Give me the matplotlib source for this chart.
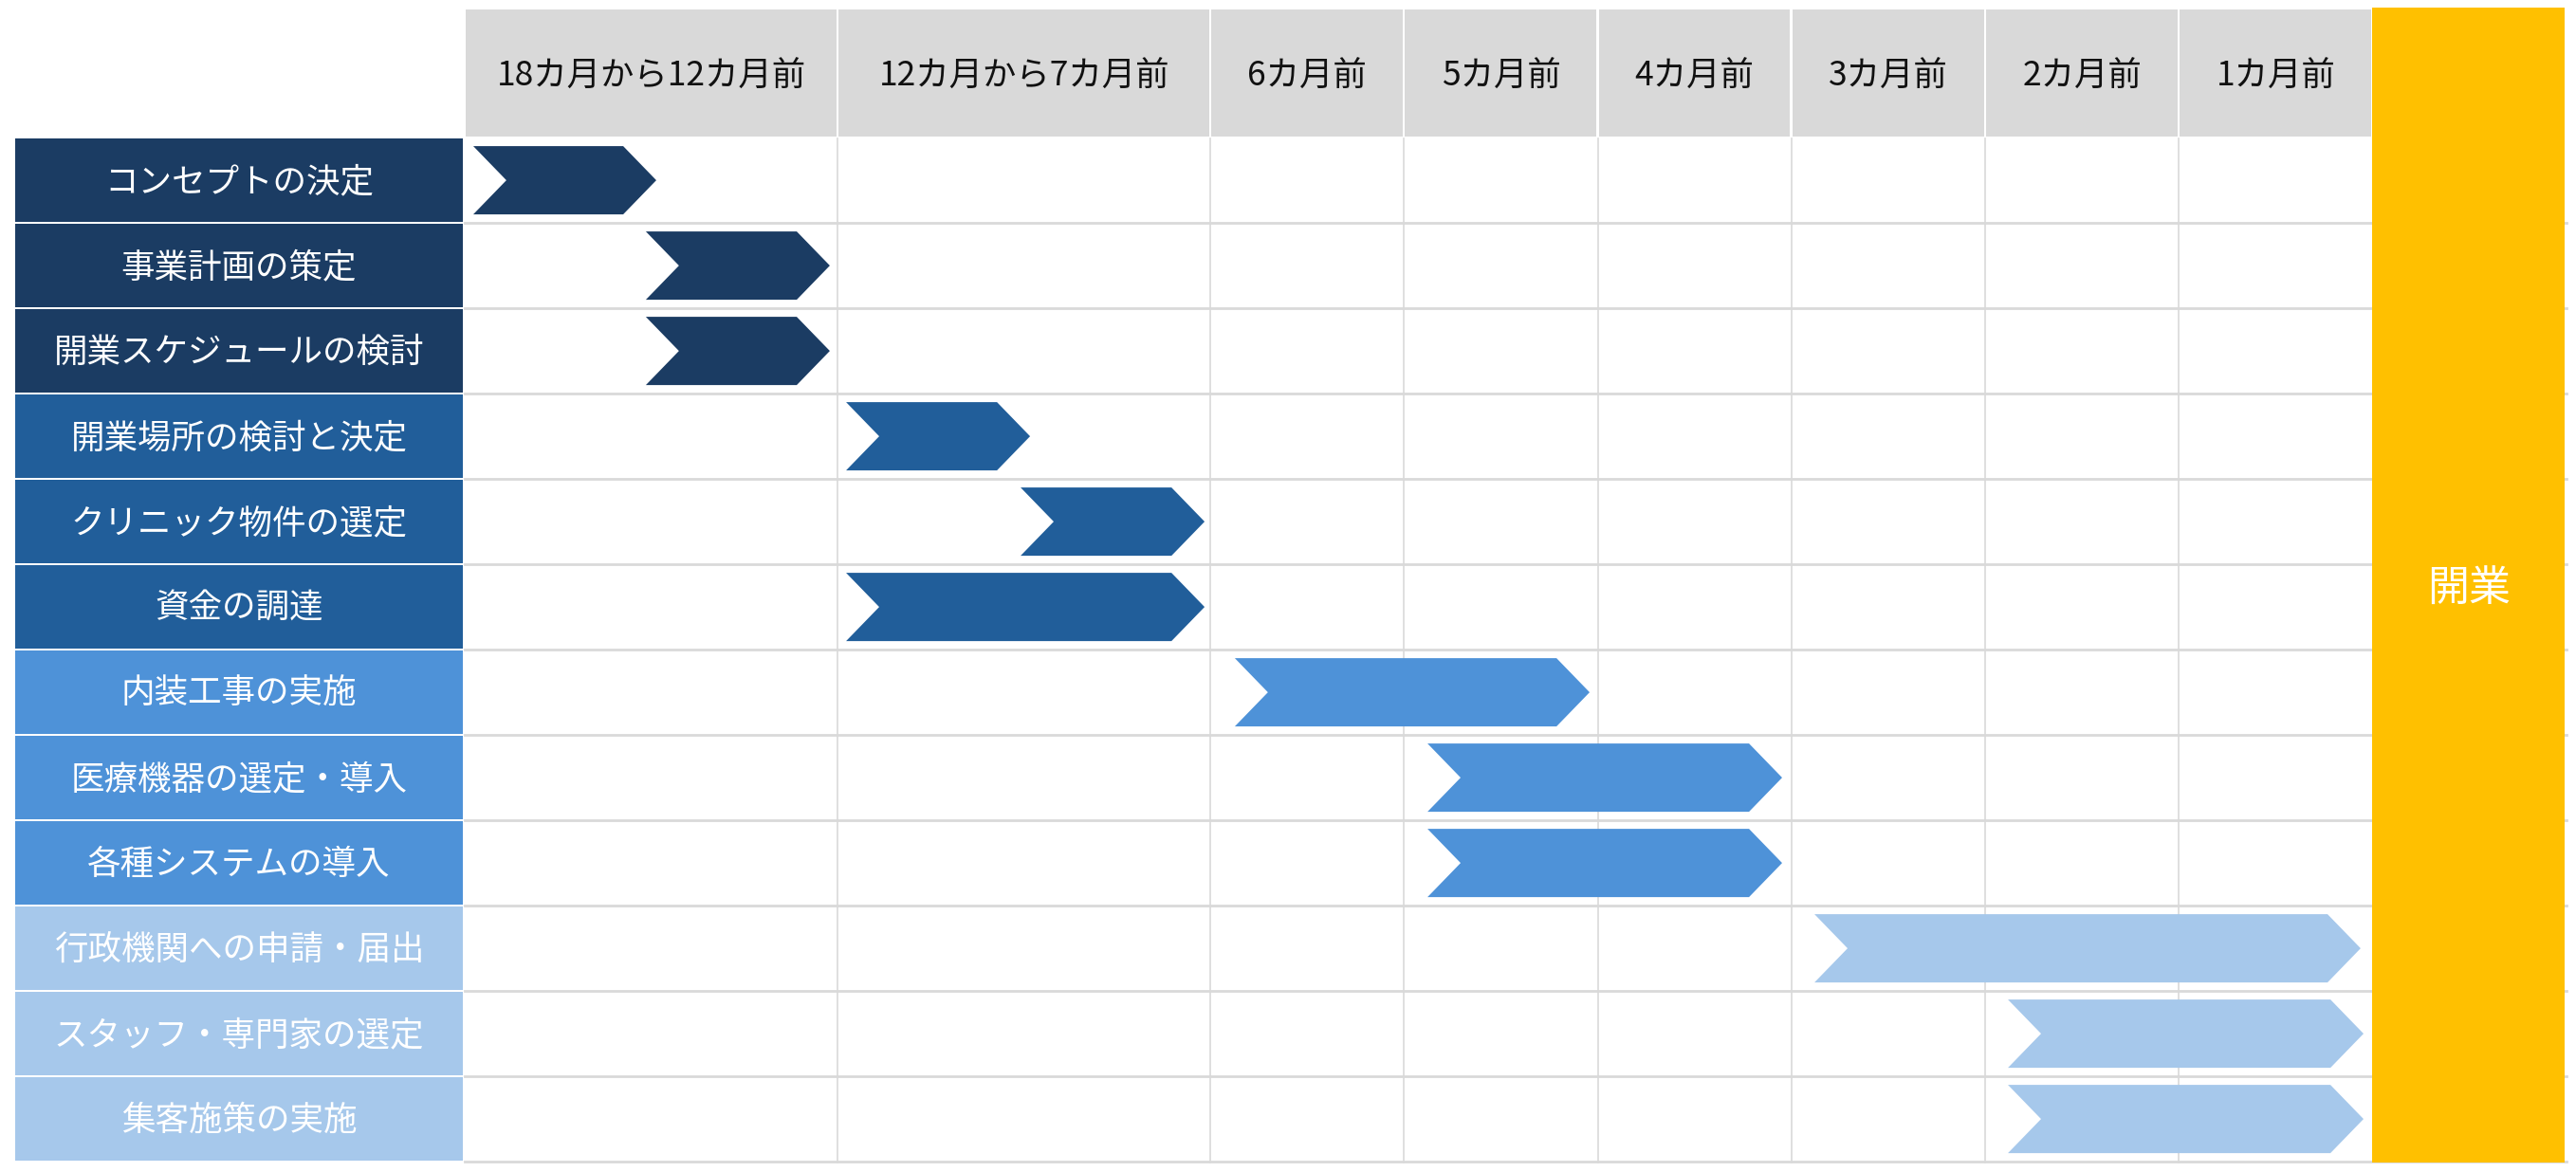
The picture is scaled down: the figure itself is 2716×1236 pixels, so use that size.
import matplotlib.pyplot as plt
from matplotlib.patches import Rectangle, Polygon

plt.rcParams['font.family'] = ['Noto Sans CJK JP', 'DejaVu Sans']

# 期間（列見出し）と列の幅（狭い列 = 1）
periods = ["18カ月から12カ月前", "12カ月から7カ月前", "6カ月前", "5カ月前",
           "4カ月前", "3カ月前", "2カ月前", "1カ月前"]
period_widths = [1.925, 1.925, 1, 1, 1, 1, 1, 1]

# タスク
tasks = ["コンセプトの決定", "事業計画の策定", "開業スケジュールの検討",
         "開業場所の検討と決定", "クリニック物件の選定", "資金の調達",
         "内装工事の実施", "医療機器の選定・導入", "各種システムの導入",
         "行政機関への申請・届出", "スタッフ・専門家の選定", "集客施策の実施"]
task_group = [0, 0, 0, 1, 1, 1, 2, 2, 2, 3, 3, 3]

# 矢印の開始・終了位置（列単位）
starts = [0.044, 0.935, 0.935, 1.969, 2.870, 1.969, 3.976, 4.971, 4.971, 6.969, 7.968, 7.968]
ends = [0.989, 1.885, 1.885, 2.919, 3.820, 3.820, 5.808, 6.802, 6.802, 9.789, 9.804, 9.804]

goal_label = "開業"

group_colors = ["#1B3C63", "#215E9A", "#4E92D8", "#A6C8EB"]
header_gray = "#D9D9D9"
grid_gray = "#D9D9D9"
yellow = "#FFC000"

fig = plt.figure(figsize=(27.16, 12.36), dpi=100)
ax = fig.add_axes([0, 0, 1, 1])
ax.set_xlim(-2.3996, 10.901)
ax.set_ylim(12.111, -1.6222)
ax.axis("off")

n = len(tasks)
edges = [0]
for w in period_widths:
    edges.append(edges[-1] + w)
x_end = edges[-1]

# グリッド線
for r in range(1, n + 1):
    ax.plot([0, x_end + 1.0], [r - 0.01, r - 0.01], color=grid_gray, lw=2.0, zorder=1)
for e in edges[1:-1]:
    ax.plot([e, e], [0, n], color=grid_gray, lw=1.2, zorder=1)

# 見出し
for i, p in enumerate(periods):
    ax.add_patch(Rectangle((edges[i] + 0.005, -1.511), period_widths[i] - 0.012, 1.489,
                           facecolor=header_gray, edgecolor="none", zorder=2))
    ax.text((edges[i] + edges[i + 1]) / 2, -0.72, p, ha="center", va="center",
            fontsize=25.5, color="#111111", zorder=3)

# タスク名の列
for r, t in enumerate(tasks):
    c = group_colors[task_group[r]]
    ax.add_patch(Rectangle((-2.321, r), 2.311, 0.978, facecolor=c, edgecolor="none", zorder=2))
    ax.text(-1.166, r + 0.51, t, ha="center", va="center", fontsize=25.6,
            color="white", zorder=3)

# 矢印（シェブロン）
half = 0.4
tip = 0.171
for r in range(n):
    c = group_colors[task_group[r]]
    yc = r + 0.49
    s, e = starts[r], ends[r]
    pts = [(s, yc - half), (e - tip, yc - half), (e, yc), (e - tip, yc + half),
           (s, yc + half), (s + tip, yc)]
    ax.add_patch(Polygon(pts, closed=True, facecolor=c, edgecolor="none", zorder=4))

# 開業
ax.add_patch(Rectangle((x_end, -1.533), 0.994, 13.533, facecolor=yellow,
                       edgecolor="none", zorder=5))
ax.text(x_end + 0.497, 5.28, goal_label, ha="center", va="center", fontsize=31.7,
        color="white", zorder=6)

fig.savefig("out.png", dpi=100, facecolor="white")
